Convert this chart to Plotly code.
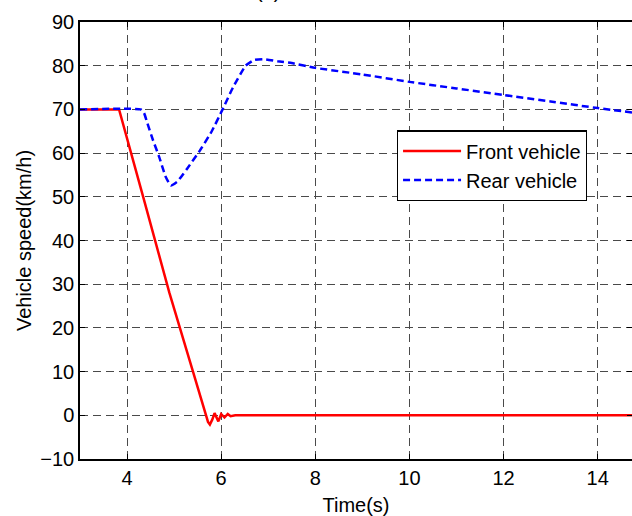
import plotly.graph_objects as go

# Front vehicle (red, solid)
front_t = [3, 3.83, 4.36, 4.9, 5.39, 5.6, 5.66, 5.72, 5.76, 5.81, 5.86, 5.94, 6.0, 6.07, 6.14, 6.2, 6.3, 14.73]
front_v = [70, 70, 49.3, 28, 10.4, 2.8, 0.5, -1.5, -2.1, -1.0, 0.5, -1.4, 0.3, -0.5, 0.3, -0.2, 0, 0]

# Rear vehicle (blue, dashed)
rear_t = [3, 4.29, 4.36, 4.43, 4.55, 4.68, 4.82, 4.93, 5.07, 5.28, 5.53, 5.8, 6.03, 6.25, 6.52, 6.7, 6.9,
          7.2, 7.5, 8, 9, 10, 11, 12, 13, 14, 14.73]
rear_v = [70, 70, 69.2, 66.9, 63, 59.2, 54.6, 52.6, 53.5, 56.5, 60.3, 65, 70, 75, 80, 81.3, 81.5,
          81.0, 80.6, 79.5, 78, 76.3, 74.8, 73.3, 71.8, 70.3, 69.3]

x_ticks = [4, 6, 8, 10, 12, 14]
y_ticks = [-10, 0, 10, 20, 30, 40, 50, 60, 70, 80, 90]

FONT = "Liberation Sans, Arial, sans-serif"

fig = go.Figure()
fig.add_trace(go.Scatter(x=front_t, y=front_v, mode="lines", name="Front vehicle",
                         line=dict(color="#ff0000", width=2.5)))
fig.add_trace(go.Scatter(x=rear_t, y=rear_v, mode="lines", name="Rear vehicle",
                         line=dict(color="#0000ff", width=2.5, dash="7px,4px",
                                   shape="spline", smoothing=0.4)))

axis_common = dict(
    showline=True, linecolor="black", linewidth=1.5, mirror="ticks",
    ticks="inside", ticklen=5, tickcolor="black",
    showgrid=True, gridcolor="#4a4a4a", gridwidth=1, griddash="8px,5px",
    zeroline=False, automargin=False,
    tickfont=dict(family=FONT, size=20, color="black"),
    title_font=dict(family=FONT, size=20, color="black"),
)

fig.update_xaxes(range=[3, 14.73], tickvals=x_ticks, title_text="Time(s)", title_standoff=10,
                 **axis_common)
fig.update_yaxes(range=[-10, 90], tickvals=y_ticks, title_text="Vehicle speed(km/h)",
                 title_standoff=3, **axis_common)

fig.add_annotation(text="(a)", xref="paper", yref="paper", x=0.34, y=1.0, yshift=18,
                   xanchor="center", yanchor="bottom", showarrow=False,
                   font=dict(family=FONT, size=20, color="black"))

fig.update_layout(
    width=632, height=516,
    margin=dict(l=80, r=0, t=22, b=57),
    paper_bgcolor="white", plot_bgcolor="white",
    font=dict(family=FONT, color="black"),
    legend=dict(x=0.574, y=0.752, xanchor="left", yanchor="top",
                bgcolor="white", bordercolor="black", borderwidth=1.2,
                font=dict(family=FONT, size=20, color="black"),
                itemwidth=58, tracegroupgap=0),
)

fig.write_html("out.html", config={"displayModeBar": False},
               post_script="document.body.style.margin='0';")
